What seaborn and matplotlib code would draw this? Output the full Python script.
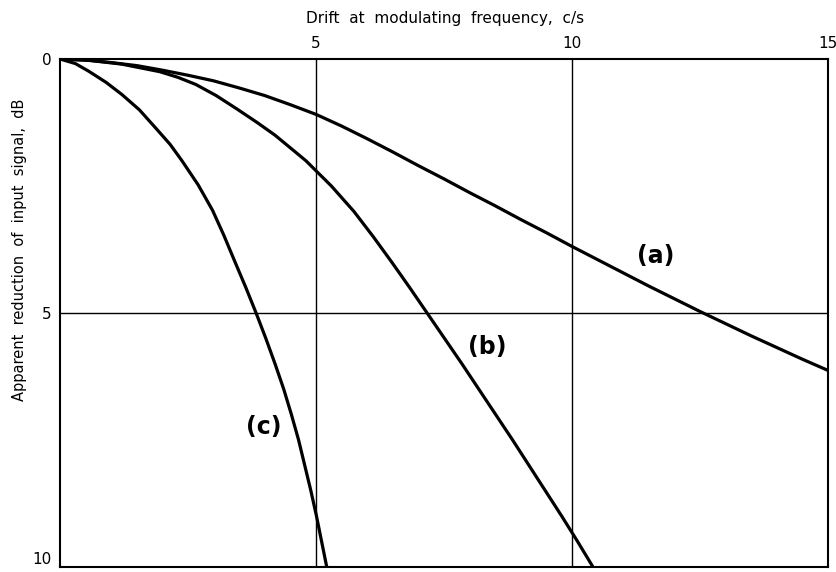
import matplotlib
matplotlib.use("Agg")
import matplotlib.pyplot as plt
import seaborn as sns
import pandas as pd

# Drift (c/s) and apparent reduction (dB) for the three curves
a_drift = [0, 0.5, 1, 1.5, 2, 2.5, 3, 3.5, 4, 4.5, 5, 5.5, 6, 6.5, 7, 7.5, 8,
           8.5, 9, 9.5, 10, 10.5, 11, 11.5, 12, 12.5, 13, 13.5, 14, 14.5, 15]
a_loss = [0, 0.02, 0.07, 0.13, 0.22, 0.32, 0.43, 0.57, 0.72, 0.9, 1.09, 1.32,
          1.57, 1.83, 2.1, 2.36, 2.63, 2.89, 3.16, 3.42, 3.69, 3.95, 4.21, 4.47,
          4.72, 4.97, 5.21, 5.45, 5.68, 5.91, 6.13]

b_drift = [0, 0.6, 1.2, 1.95, 2.3, 2.65, 3.05, 3.45, 3.85, 4.2, 4.8, 5.3, 5.74,
           6.12, 6.48, 6.83, 7.17, 7.51, 7.85, 8.18, 8.51, 8.84, 9.16, 9.48,
           9.8, 10.11, 10.41]
b_loss = [0, 0.03, 0.1, 0.25, 0.36, 0.5, 0.72, 0.98, 1.25, 1.5, 2.0, 2.5, 3.0,
          3.5, 4.0, 4.5, 5.0, 5.5, 6.0, 6.5, 7.0, 7.5, 8.0, 8.5, 9.0, 9.5, 10.0]

c_drift = [0, 0.3, 0.56, 0.9, 1.21, 1.55, 1.87, 2.15, 2.38, 2.7, 2.98, 3.2,
           3.42, 3.63, 3.83, 4.02, 4.2, 4.37, 4.52, 4.66, 4.78, 4.9, 5.01,
           5.11, 5.21]
c_loss = [0, 0.09, 0.24, 0.46, 0.7, 1.0, 1.36, 1.68, 2.0, 2.48, 2.98, 3.47,
          4.0, 4.5, 5.0, 5.5, 6.0, 6.5, 7.0, 7.5, 8.0, 8.5, 9.0, 9.5, 10.0]

curve_labels = ["(a)", "(b)", "(c)"]
label_pos = [(11.63, 3.87), (8.35, 5.66), (3.97, 7.24)]

x_ticks = [5, 10, 15]
y_ticks = [0, 5, 10]

frames = []
for name, xs, ys in zip(curve_labels, [a_drift, b_drift, c_drift],
                        [a_loss, b_loss, c_loss]):
    frames.append(pd.DataFrame({"drift": xs, "loss": ys, "curve": name}))
df = pd.concat(frames, ignore_index=True)

sns.set_theme(style="white")
plt.rcParams["font.family"] = ["DejaVu Sans"]
plt.rcParams["text.color"] = "black"

fig = plt.figure(figsize=(8.36, 5.72), dpi=100)
ax = fig.add_axes([60 / 836, 5 / 572, 768 / 836, 508 / 572])

for name in curve_labels:
    sub = df[df["curve"] == name]
    sns.lineplot(data=sub, x="drift", y="loss", ax=ax, color="black",
                 linewidth=2.3, sort=False, estimator=None, legend=False)

ax.set_xlim(0, 15)
ax.set_ylim(10, 0)

for v in [5, 10]:
    ax.axvline(v, color="black", linewidth=1.0, zorder=1)
ax.axhline(5, color="black", linewidth=1.0, zorder=1)

for s in ax.spines.values():
    s.set_color("black")
    s.set_linewidth(1.5)

ax.xaxis.tick_top()
ax.set_xticks(x_ticks)
ax.set_xticklabels([str(t) for t in x_ticks])
ax.set_yticks(y_ticks)
ax.set_yticklabels([str(t) for t in y_ticks])
ax.tick_params(axis="both", length=0, labelsize=11, colors="black")
ax.tick_params(axis="x", pad=6)
ax.tick_params(axis="y", pad=6)
ax.get_yticklabels()[-1].set_verticalalignment("bottom")
ax.set_xlabel("")
ax.set_ylabel("")

for text, (x, y) in zip(curve_labels, label_pos):
    ax.text(x, y, text, fontsize=17, fontweight="bold", ha="center",
            va="center", color="black")

fig.text(445 / 836, 1 - 18 / 572, "Drift  at  modulating  frequency,  c/s",
         ha="center", va="center", fontsize=11, color="black")
fig.text(20 / 836, 1 - 250 / 572, "Apparent  reduction  of  input  signal,  dB",
         ha="center", va="center", rotation=90, fontsize=10.5, color="black")

fig.savefig("out.png", dpi=100, facecolor="white")
